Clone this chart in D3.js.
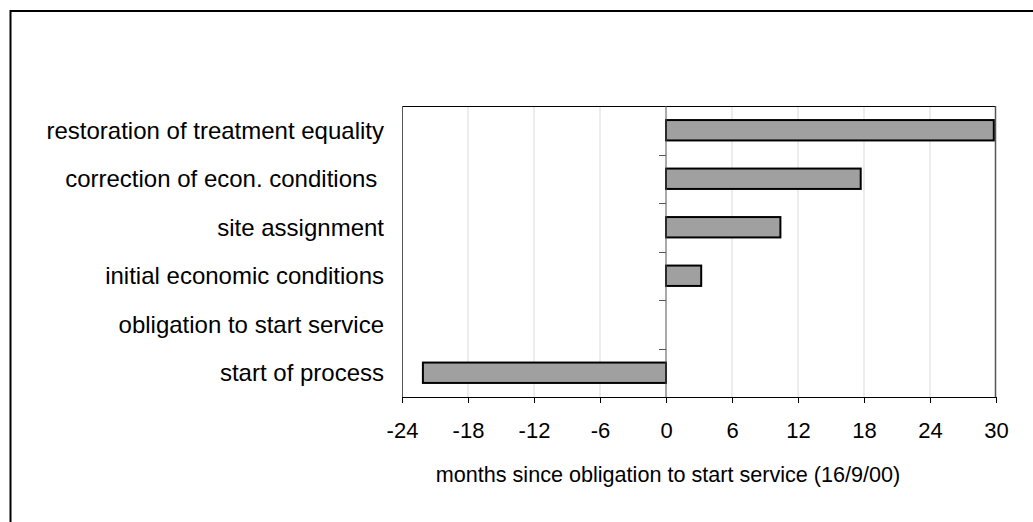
<!DOCTYPE html>
<html>
<head>
<meta charset="utf-8">
<script src="https://cdn.jsdelivr.net/npm/d3@7"></script>
<style>
  body { margin: 0; background: #fff; }
  text { font-family: "Liberation Sans", Arial, sans-serif; fill: #000; }
</style>
</head>
<body>
<div id="chart"></div>
<script>
// categories, top to bottom
const categories = [
  "restoration of treatment equality",
  "correction of econ. conditions ",
  "site assignment",
  "initial economic conditions",
  "obligation to start service",
  "start of process"
];
// months since 16/9/00
const values = [29.8, 17.7, 10.4, 3.2, 0, -22.1];
const xTicks = [-24, -18, -12, -6, 0, 6, 12, 18, 24, 30];
const xTitle = "months since obligation to start service (16/9/00)";

const W = 1033, H = 522;
const plot = {left: 402, top: 106, right: 996, bottom: 397};

const svg = d3.select("#chart").append("svg")
  .attr("width", W)
  .attr("height", H);

// outer frame (cut off on right and bottom)
svg.append("rect")
  .attr("x", 10.5).attr("y", 11)
  .attr("width", 1100).attr("height", 600)
  .attr("fill", "none")
  .attr("stroke", "#000")
  .attr("stroke-width", 2);

const x = d3.scaleLinear()
  .domain([-24, 30])
  .range([plot.left, plot.right]);

const y = d3.scaleBand()
  .domain(categories)
  .range([plot.top, plot.bottom])
  .paddingInner(0.58)
  .paddingOuter(0.29);

const yBounds = d3.scaleBand()
  .domain(categories)
  .range([plot.top, plot.bottom]);

// gridlines
svg.append("g")
  .selectAll("line")
  .data(xTicks.filter(d => d !== 0 && d !== -24 && d !== 30))
  .join("line")
  .attr("x1", d => x(d)).attr("x2", d => x(d))
  .attr("y1", plot.top).attr("y2", plot.bottom)
  .attr("stroke", "#d9d9d9")
  .attr("stroke-width", 1);

// plot frame
svg.append("line")
  .attr("x1", plot.left).attr("x2", plot.right)
  .attr("y1", plot.top + 0.5).attr("y2", plot.top + 0.5)
  .attr("stroke", "#000");
svg.append("line")
  .attr("x1", plot.left + 0.5).attr("x2", plot.left + 0.5)
  .attr("y1", plot.top).attr("y2", plot.bottom)
  .attr("stroke", "#555");
svg.append("line")
  .attr("x1", plot.right - 0.5).attr("x2", plot.right - 0.5)
  .attr("y1", plot.top).attr("y2", plot.bottom)
  .attr("stroke", "#555").attr("stroke-width", 1.5);

// bars
svg.append("g")
  .selectAll("rect")
  .data(categories.map((c, i) => ({c, v: values[i]})).filter(d => d.v !== 0))
  .join("rect")
  .attr("x", d => x(Math.min(0, d.v)))
  .attr("y", d => y(d.c))
  .attr("width", d => Math.abs(x(d.v) - x(0)))
  .attr("height", y.bandwidth())
  .attr("fill", "#a0a0a0")
  .attr("stroke", "#000")
  .attr("stroke-width", 2);

// vertical zero axis with category ticks
svg.append("line")
  .attr("x1", x(0)).attr("x2", x(0))
  .attr("y1", plot.top).attr("y2", plot.bottom)
  .attr("stroke", "#555");
svg.append("g")
  .selectAll("line")
  .data(categories.slice(1))
  .join("line")
  .attr("x1", x(0) - 7).attr("x2", x(0))
  .attr("y1", d => Math.round(yBounds(d)) + 0.5)
  .attr("y2", d => Math.round(yBounds(d)) + 0.5)
  .attr("stroke", "#555");

// category labels
svg.append("g")
  .selectAll("text")
  .data(categories)
  .join("text")
  .attr("x", 384)
  .attr("y", d => y(d) + y.bandwidth() / 2)
  .attr("dy", "0.35em")
  .attr("text-anchor", "end")
  .attr("font-size", 24)
  .style("white-space", "pre")
  .text(d => d);

// bottom axis
const xAxis = svg.append("g")
  .attr("transform", `translate(0,${plot.bottom})`)
  .call(d3.axisBottom(x).tickValues(xTicks).tickFormat(d => String(d))
    .tickSize(6).tickPadding(19).tickSizeOuter(0));
xAxis.select(".domain").attr("stroke", "#000");
xAxis.selectAll(".tick line").attr("stroke", "#000");
xAxis.selectAll("text")
  .attr("font-size", 22)
  .attr("font-family", "Liberation Sans, Arial, sans-serif")
  .attr("fill", "#000");

// axis title
svg.append("text")
  .attr("x", 668)
  .attr("y", 482)
  .attr("text-anchor", "middle")
  .attr("font-size", 21.6)
  .text(xTitle);
</script>
</body>
</html>
